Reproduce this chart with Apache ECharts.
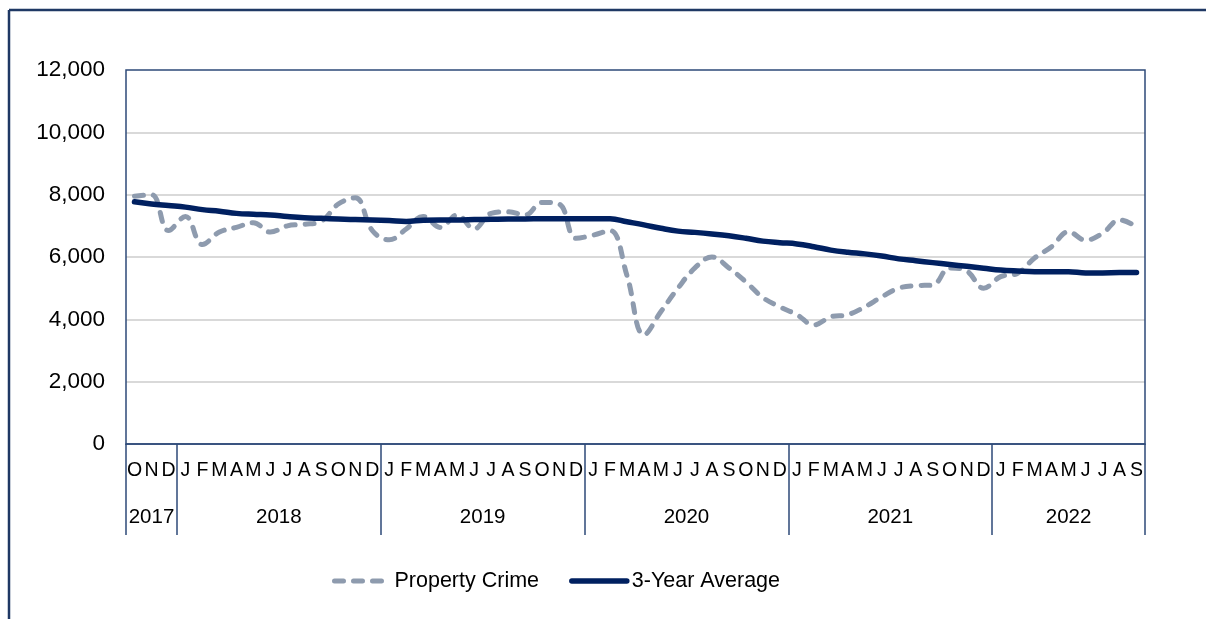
<!DOCTYPE html>
<html>
<head>
<meta charset="utf-8">
<script src="https://cdn.jsdelivr.net/npm/echarts@6/dist/echarts.min.js"></script>
<style>
  html, body { margin: 0; padding: 0; background: #fff; }
  #chart { width: 1206px; height: 619px; }
</style>
</head>
<body>
<div id="chart"></div>
<script>
// tick labels
var years = ['2017', '2018', '2019', '2020', '2021', '2022'];
var yearMonths = [
    ['O', 'N', 'D'],
    ['J', 'F', 'M', 'A', 'M', 'J', 'J', 'A', 'S', 'O', 'N', 'D'],
    ['J', 'F', 'M', 'A', 'M', 'J', 'J', 'A', 'S', 'O', 'N', 'D'],
    ['J', 'F', 'M', 'A', 'M', 'J', 'J', 'A', 'S', 'O', 'N', 'D'],
    ['J', 'F', 'M', 'A', 'M', 'J', 'J', 'A', 'S', 'O', 'N', 'D'],
    ['J', 'F', 'M', 'A', 'M', 'J', 'J', 'A', 'S']
];
var yTicks = [0, 2000, 4000, 6000, 8000, 10000, 12000];

// series values, Oct 2017 .. Sep 2022
var propertyCrime = [
    7950, 8000, 6850,
    7300, 6400, 6800, 6950, 7100, 6800, 7000, 7050, 7150, 7700, 7900, 6850,
    6550, 6900, 7300, 6950, 7350, 6900, 7400, 7450, 7350, 7750, 7700, 6600,
    6700, 6850, 5400, 3500, 4250, 5000, 5650, 6000, 5650, 5200, 4700, 4400,
    4150, 3820, 4080, 4150, 4400, 4720, 5000, 5080, 5100, 5650, 5550, 5000,
    5370, 5480, 5970, 6330, 6810, 6540, 6760, 7190, 6970
];
var threeYearAvg = [
    7770, 7700, 7650,
    7600, 7520, 7470, 7400, 7370, 7350, 7300, 7260, 7240, 7220, 7200, 7190,
    7170, 7140, 7180, 7190, 7190, 7200, 7210, 7220, 7220, 7230, 7230, 7230,
    7230, 7230, 7130, 7030, 6920, 6830, 6790, 6740, 6680, 6600, 6510, 6460,
    6420, 6330, 6220, 6150, 6100, 6030, 5940, 5880, 5820, 5760, 5700, 5640,
    5580, 5550, 5530, 5530, 5530, 5490, 5490, 5500, 5500
];

var monthCats = [];
var yearCats = [];
var yearStart = {};
var yearLabelAt = {};
years.forEach(function (y, k) {
    var start = monthCats.length;
    yearStart[start] = true;
    var n = yearMonths[k].length;
    yearLabelAt[start + Math.floor((n - 1) / 2)] = { text: y, even: n % 2 === 0 };
    yearMonths[k].forEach(function (m) {
        monthCats.push(m);
        yearCats.push(y);
    });
});

var navy = '#1f3864';
var frame = '#2e4a78';
var greyBlue = '#8e9bae';
var darkBlue = '#002060';
var font = 'Liberation Sans, Arial, sans-serif';

var myChart = echarts.init(document.getElementById('chart'));

var option = {
    backgroundColor: '#fff',
    animation: false,
    graphic: [
        { type: 'line', shape: { x1: 9, y1: 10, x2: 1206, y2: 10 }, style: { stroke: navy, lineWidth: 2.5 } },
        { type: 'line', shape: { x1: 9, y1: 10, x2: 9, y2: 619 }, style: { stroke: navy, lineWidth: 2.5 } }
    ],
    grid: {
        left: 126, right: 61, top: 70, bottom: 175,
        show: true, borderColor: frame, borderWidth: 1.5, z: 1
    },
    legend: {
        left: 327, top: 565,
        itemWidth: 55, itemHeight: 20, itemGap: 30,
        itemStyle: { opacity: 0 },
        textStyle: { fontSize: 21.5, color: '#000', fontFamily: font },
        data: [
            { name: 'Property Crime', lineStyle: { color: greyBlue, width: 5, type: [9, 10], cap: 'round' } },
            { name: '3-Year Average', lineStyle: { color: darkBlue, width: 5.5, cap: 'round' } }
        ]
    },
    xAxis: [
        {
            type: 'category',
            data: monthCats,
            position: 'bottom',
            axisLine: { show: true, lineStyle: { color: frame, width: 1.5 } },
            axisTick: { show: false },
            axisLabel: { interval: 0, margin: 17, fontSize: 19.5, color: '#000', fontFamily: font }
        },
        {
            type: 'category',
            data: yearCats,
            position: 'bottom',
            axisLine: { show: false },
            axisTick: {
                show: true, length: 91,
                interval: function (idx) { return !!yearStart[idx]; },
                lineStyle: { color: frame, width: 1.5 }
            },
            axisLabel: {
                interval: 0, margin: 63, color: '#000',
                formatter: function (value, idx) {
                    var l = yearLabelAt[idx];
                    if (!l) return '';
                    return l.even ? '{e|' + l.text + '}' : '{o|' + l.text + '}';
                },
                rich: {
                    e: { fontSize: 20.5, fontFamily: font, color: '#000', padding: [0, 0, 0, 17] },
                    o: { fontSize: 20.5, fontFamily: font, color: '#000' }
                }
            }
        }
    ],
    yAxis: {
        type: 'value',
        min: yTicks[0],
        max: yTicks[yTicks.length - 1],
        interval: 2000,
        axisLine: { show: false },
        axisTick: { show: false },
        axisLabel: {
            margin: 21, fontSize: 22.5, color: '#000', fontFamily: font,
            formatter: function (v) { return v.toLocaleString('en-US'); }
        },
        splitLine: { showMaxLine: false, showMinLine: false, lineStyle: { color: '#d9d9d9', width: 2 } }
    },
    series: [
        {
            name: 'Property Crime',
            type: 'line',
            data: propertyCrime,
            smooth: 0.4,
            symbol: 'none',
            z: 2,
            itemStyle: { color: greyBlue },
            lineStyle: { color: greyBlue, width: 5, type: [9, 10], cap: 'round' }
        },
        {
            name: '3-Year Average',
            type: 'line',
            data: threeYearAvg,
            smooth: 0.4,
            symbol: 'none',
            z: 3,
            itemStyle: { color: darkBlue },
            lineStyle: { color: darkBlue, width: 5.5, cap: 'round' }
        }
    ]
};

if (option && typeof option === "object") {
    myChart.setOption(option, true);
}
</script>
</body>
</html>
